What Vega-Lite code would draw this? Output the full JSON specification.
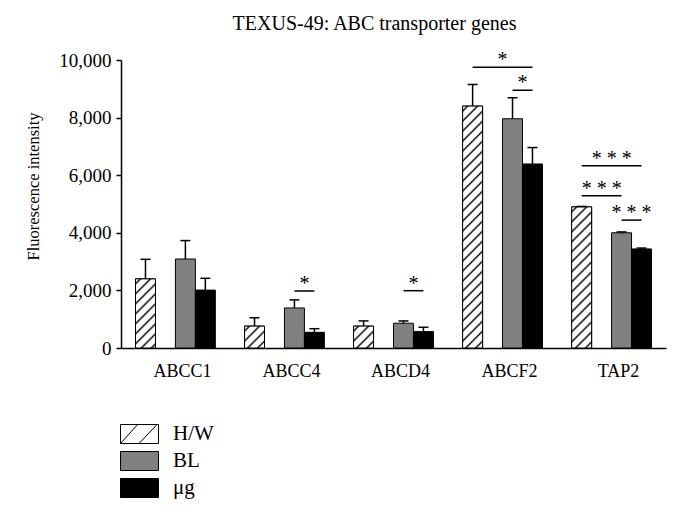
{
  "$schema": "https://vega.github.io/schema/vega-lite/v6.json",
  "width": 545,
  "height": 288,
  "autosize": "none",
  "padding": {"left": 121, "top": 60, "right": 14, "bottom": 164},
  "background": "#ffffff",
  "title": {"text": "TEXUS-49: ABC transporter genes", "font": "Liberation Serif", "fontSize": 20, "fontWeight": "normal", "color": "#000000", "anchor": "middle", "dx": -19, "offset": 16},
  "config": {
    "view": {"stroke": null},
    "font": "Liberation Serif",
    "axisY": {"grid": false, "tickSize": 5, "tickColor": "#000000", "tickWidth": 1.5, "labelPadding": 5, "labelExpr": "format(datum.value, ',')", "labelFont": "Liberation Serif", "labelFontSize": 19, "labelColor": "#000000", "domainColor": "#000000", "domainWidth": 1.5, "titleFont": "Liberation Serif", "titleFontSize": 16.5, "titleFontWeight": "normal", "titleColor": "#000000", "titleAngle": -90, "titleX": -82.5, "titleY": 126, "titleAlign": "center", "titleBaseline": "alphabetic"}
  },
  "datasets": {
    "bars": [
      {"gene": "ABCC1", "group": "H/W", "value": 2400, "upper": 3080},
      {"gene": "ABCC1", "group": "BL", "value": 3090, "upper": 3730},
      {"gene": "ABCC1", "group": "μg", "value": 2010, "upper": 2420},
      {"gene": "ABCC4", "group": "H/W", "value": 760, "upper": 1050},
      {"gene": "ABCC4", "group": "BL", "value": 1390, "upper": 1670},
      {"gene": "ABCC4", "group": "μg", "value": 545, "upper": 670},
      {"gene": "ABCD4", "group": "H/W", "value": 760, "upper": 940},
      {"gene": "ABCD4", "group": "BL", "value": 860, "upper": 940},
      {"gene": "ABCD4", "group": "μg", "value": 570, "upper": 720},
      {"gene": "ABCF2", "group": "H/W", "value": 8400, "upper": 9150},
      {"gene": "ABCF2", "group": "BL", "value": 7960, "upper": 8690},
      {"gene": "ABCF2", "group": "μg", "value": 6390, "upper": 6960},
      {"gene": "TAP2", "group": "H/W", "value": 4900, "upper": 4915},
      {"gene": "TAP2", "group": "BL", "value": 4000, "upper": 4030},
      {"gene": "TAP2", "group": "μg", "value": 3440, "upper": 3470}
    ],
    "sig": [
      {"gene": "ABCC4", "from": "BL", "to": "μg", "level": 1980, "label": "*"},
      {"gene": "ABCD4", "from": "BL", "to": "μg", "level": 1990, "label": "*"},
      {"gene": "ABCF2", "from": "H/W", "to": "μg", "level": 9750, "label": "*"},
      {"gene": "ABCF2", "from": "BL", "to": "μg", "level": 8950, "label": "*"},
      {"gene": "TAP2", "from": "H/W", "to": "μg", "level": 6330, "label": "* * *"},
      {"gene": "TAP2", "from": "H/W", "to": "BL", "level": 5290, "label": "* * *"},
      {"gene": "TAP2", "from": "BL", "to": "μg", "level": 4440, "label": "* * *"}
    ]
  },
  "encoding": {
    "x": {
      "field": "gene", "type": "nominal",
      "sort": ["ABCC1", "ABCC4", "ABCD4", "ABCF2", "TAP2"],
      "scale": {"domain": ["ABCC1", "ABCC4", "ABCD4", "ABCF2", "TAP2"], "paddingInner": 0.268, "paddingOuter": 0.133},
      "axis": {"title": null, "labelAngle": 0, "ticks": false, "labelPadding": 14, "labelOffset": 7, "labelFont": "Liberation Serif", "labelFontSize": 18, "labelColor": "#000000", "domainColor": "#000000", "domainWidth": 1.5}
    }
  },
  "layer": [
    {
      "data": {"name": "bars"},
      "mark": {"type": "bar", "stroke": "#000000", "strokeWidth": 1},
      "encoding": {
        "xOffset": {"field": "group", "type": "nominal", "scale": {"domain": ["H/W", "gap", "BL", "μg"], "paddingInner": 0, "paddingOuter": 0}},
        "y": {
          "field": "value", "type": "quantitative", "title": "Fluorescence intensity",
          "scale": {"domain": [0, 10000], "nice": false},
          "axis": {"title": "Fluorescence intensity", "values": [0, 2000, 4000, 6000, 8000, 10000]}
        },
        "color": {
          "field": "group", "type": "nominal",
          "scale": {"domain": ["H/W", "BL", "μg"], "range": ["#ffffff", "#808080", "#000000"]},
          "legend": {
            "title": null, "orient": "none", "legendX": 8, "legendY": 363.5, "direction": "vertical",
            "symbolType": "M-2,-1H2V1H-2Z", "symbolSize": 361, "symbolStrokeColor": "#000000", "symbolStrokeWidth": 1, "symbolOpacity": 1,
            "labelFont": "Liberation Serif", "labelFontSize": 21, "labelColor": "#000000", "labelOffset": 23, "rowPadding": 4, "padding": 0,
            "encode": {"symbols": {"update": {
              "stroke": {"value": "#000000"},
              "strokeWidth": {"value": 1},
              "shape": {"signal": "datum.value === 'H/W' ? 'M-2,-1H2V1H-2Z M-2,1L-0.2,-1 M-0.05,1L1.85,-1' : 'M-2,-1H2V1H-2Z'"}
            }}}
          }
        }
      }
    },
    {
      "data": {"name": "bars"},
      "transform": [{"filter": "datum.group === 'H/W' && datum.gene === 'ABCC1'"}],
      "mark": {"type": "bar", "stroke": "#000000", "strokeWidth": 1, "fill": {"gradient": "linear", "x1": 0, "y1": 0, "x2": 0.3443, "y2": 1.1898, "stops": [
        {"offset": 0.0337, "color": "#ffffff"}, {"offset": 0.0561, "color": "#000000"}, {"offset": 0.0785, "color": "#ffffff"},
        {"offset": 0.1459, "color": "#ffffff"}, {"offset": 0.1683, "color": "#000000"}, {"offset": 0.1908, "color": "#ffffff"},
        {"offset": 0.2581, "color": "#ffffff"}, {"offset": 0.2805, "color": "#000000"}, {"offset": 0.3030, "color": "#ffffff"},
        {"offset": 0.3703, "color": "#ffffff"}, {"offset": 0.3927, "color": "#000000"}, {"offset": 0.4152, "color": "#ffffff"},
        {"offset": 0.4825, "color": "#ffffff"}, {"offset": 0.5049, "color": "#000000"}, {"offset": 0.5274, "color": "#ffffff"},
        {"offset": 0.5947, "color": "#ffffff"}, {"offset": 0.6172, "color": "#000000"}, {"offset": 0.6396, "color": "#ffffff"},
        {"offset": 0.7069, "color": "#ffffff"}, {"offset": 0.7294, "color": "#000000"}, {"offset": 0.7518, "color": "#ffffff"},
        {"offset": 0.8191, "color": "#ffffff"}, {"offset": 0.8416, "color": "#000000"}, {"offset": 0.8640, "color": "#ffffff"},
        {"offset": 0.9313, "color": "#ffffff"}, {"offset": 0.9538, "color": "#000000"}, {"offset": 0.9762, "color": "#ffffff"}]}},
      "encoding": {
        "xOffset": {"field": "group", "type": "nominal", "scale": {"domain": ["H/W", "gap", "BL", "μg"]}},
        "y": {"field": "value", "type": "quantitative", "title": "Fluorescence intensity"}
      }
    },
    {
      "data": {"name": "bars"},
      "transform": [{"filter": "datum.group === 'H/W' && (datum.gene === 'ABCC4' || datum.gene === 'ABCD4')"}],
      "mark": {"type": "bar", "stroke": "#000000", "strokeWidth": 1, "fill": {"gradient": "linear", "x1": 0, "y1": 0, "x2": 0.9529, "y2": 1.0430, "stops": [
        {"offset": 0.0716, "color": "#ffffff"}, {"offset": 0.1194, "color": "#000000"}, {"offset": 0.1671, "color": "#ffffff"},
        {"offset": 0.3103, "color": "#ffffff"}, {"offset": 0.3581, "color": "#000000"}, {"offset": 0.4058, "color": "#ffffff"},
        {"offset": 0.5491, "color": "#ffffff"}, {"offset": 0.5968, "color": "#000000"}, {"offset": 0.6446, "color": "#ffffff"},
        {"offset": 0.7878, "color": "#ffffff"}, {"offset": 0.8355, "color": "#000000"}, {"offset": 0.8833, "color": "#ffffff"}]}},
      "encoding": {
        "xOffset": {"field": "group", "type": "nominal", "scale": {"domain": ["H/W", "gap", "BL", "μg"]}},
        "y": {"field": "value", "type": "quantitative", "title": "Fluorescence intensity"}
      }
    },
    {
      "data": {"name": "bars"},
      "transform": [{"filter": "datum.group === 'H/W' && datum.gene === 'ABCF2'"}],
      "mark": {"type": "bar", "stroke": "#000000", "strokeWidth": 1, "fill": {"gradient": "linear", "x1": 0, "y1": 0, "x2": 0.0889, "y2": 1.0753, "stops": [
        {"offset": 0.0115, "color": "#ffffff"}, {"offset": 0.0191, "color": "#000000"}, {"offset": 0.0267, "color": "#ffffff"},
        {"offset": 0.0496, "color": "#ffffff"}, {"offset": 0.0573, "color": "#000000"}, {"offset": 0.0649, "color": "#ffffff"},
        {"offset": 0.0878, "color": "#ffffff"}, {"offset": 0.0955, "color": "#000000"}, {"offset": 0.1031, "color": "#ffffff"},
        {"offset": 0.1260, "color": "#ffffff"}, {"offset": 0.1336, "color": "#000000"}, {"offset": 0.1413, "color": "#ffffff"},
        {"offset": 0.1642, "color": "#ffffff"}, {"offset": 0.1718, "color": "#000000"}, {"offset": 0.1794, "color": "#ffffff"},
        {"offset": 0.2024, "color": "#ffffff"}, {"offset": 0.2100, "color": "#000000"}, {"offset": 0.2176, "color": "#ffffff"},
        {"offset": 0.2405, "color": "#ffffff"}, {"offset": 0.2482, "color": "#000000"}, {"offset": 0.2558, "color": "#ffffff"},
        {"offset": 0.2787, "color": "#ffffff"}, {"offset": 0.2864, "color": "#000000"}, {"offset": 0.2940, "color": "#ffffff"},
        {"offset": 0.3169, "color": "#ffffff"}, {"offset": 0.3245, "color": "#000000"}, {"offset": 0.3322, "color": "#ffffff"},
        {"offset": 0.3551, "color": "#ffffff"}, {"offset": 0.3627, "color": "#000000"}, {"offset": 0.3703, "color": "#ffffff"},
        {"offset": 0.3933, "color": "#ffffff"}, {"offset": 0.4009, "color": "#000000"}, {"offset": 0.4085, "color": "#ffffff"},
        {"offset": 0.4314, "color": "#ffffff"}, {"offset": 0.4391, "color": "#000000"}, {"offset": 0.4467, "color": "#ffffff"},
        {"offset": 0.4696, "color": "#ffffff"}, {"offset": 0.4773, "color": "#000000"}, {"offset": 0.4849, "color": "#ffffff"},
        {"offset": 0.5078, "color": "#ffffff"}, {"offset": 0.5154, "color": "#000000"}, {"offset": 0.5231, "color": "#ffffff"},
        {"offset": 0.5460, "color": "#ffffff"}, {"offset": 0.5536, "color": "#000000"}, {"offset": 0.5612, "color": "#ffffff"},
        {"offset": 0.5842, "color": "#ffffff"}, {"offset": 0.5918, "color": "#000000"}, {"offset": 0.5994, "color": "#ffffff"},
        {"offset": 0.6223, "color": "#ffffff"}, {"offset": 0.6300, "color": "#000000"}, {"offset": 0.6376, "color": "#ffffff"},
        {"offset": 0.6605, "color": "#ffffff"}, {"offset": 0.6682, "color": "#000000"}, {"offset": 0.6758, "color": "#ffffff"},
        {"offset": 0.6987, "color": "#ffffff"}, {"offset": 0.7063, "color": "#000000"}, {"offset": 0.7140, "color": "#ffffff"},
        {"offset": 0.7369, "color": "#ffffff"}, {"offset": 0.7445, "color": "#000000"}, {"offset": 0.7521, "color": "#ffffff"},
        {"offset": 0.7751, "color": "#ffffff"}, {"offset": 0.7827, "color": "#000000"}, {"offset": 0.7903, "color": "#ffffff"},
        {"offset": 0.8132, "color": "#ffffff"}, {"offset": 0.8209, "color": "#000000"}, {"offset": 0.8285, "color": "#ffffff"},
        {"offset": 0.8514, "color": "#ffffff"}, {"offset": 0.8591, "color": "#000000"}, {"offset": 0.8667, "color": "#ffffff"},
        {"offset": 0.8896, "color": "#ffffff"}, {"offset": 0.8972, "color": "#000000"}, {"offset": 0.9049, "color": "#ffffff"},
        {"offset": 0.9278, "color": "#ffffff"}, {"offset": 0.9354, "color": "#000000"}, {"offset": 0.9430, "color": "#ffffff"},
        {"offset": 0.9660, "color": "#ffffff"}, {"offset": 0.9736, "color": "#000000"}, {"offset": 0.9812, "color": "#ffffff"}]}},
      "encoding": {
        "xOffset": {"field": "group", "type": "nominal", "scale": {"domain": ["H/W", "gap", "BL", "μg"]}},
        "y": {"field": "value", "type": "quantitative", "title": "Fluorescence intensity"}
      }
    },
    {
      "data": {"name": "bars"},
      "transform": [{"filter": "datum.group === 'H/W' && datum.gene === 'TAP2'"}],
      "mark": {"type": "bar", "stroke": "#000000", "strokeWidth": 1, "fill": {"gradient": "linear", "x1": 0, "y1": 0, "x2": 0.1586, "y2": 1.1192, "stops": [
        {"offset": 0.0186, "color": "#ffffff"}, {"offset": 0.0310, "color": "#000000"}, {"offset": 0.0434, "color": "#ffffff"},
        {"offset": 0.0807, "color": "#ffffff"}, {"offset": 0.0931, "color": "#000000"}, {"offset": 0.1055, "color": "#ffffff"},
        {"offset": 0.1428, "color": "#ffffff"}, {"offset": 0.1552, "color": "#000000"}, {"offset": 0.1676, "color": "#ffffff"},
        {"offset": 0.2048, "color": "#ffffff"}, {"offset": 0.2172, "color": "#000000"}, {"offset": 0.2296, "color": "#ffffff"},
        {"offset": 0.2669, "color": "#ffffff"}, {"offset": 0.2793, "color": "#000000"}, {"offset": 0.2917, "color": "#ffffff"},
        {"offset": 0.3290, "color": "#ffffff"}, {"offset": 0.3414, "color": "#000000"}, {"offset": 0.3538, "color": "#ffffff"},
        {"offset": 0.3910, "color": "#ffffff"}, {"offset": 0.4034, "color": "#000000"}, {"offset": 0.4158, "color": "#ffffff"},
        {"offset": 0.4531, "color": "#ffffff"}, {"offset": 0.4655, "color": "#000000"}, {"offset": 0.4779, "color": "#ffffff"},
        {"offset": 0.5151, "color": "#ffffff"}, {"offset": 0.5276, "color": "#000000"}, {"offset": 0.5400, "color": "#ffffff"},
        {"offset": 0.5772, "color": "#ffffff"}, {"offset": 0.5896, "color": "#000000"}, {"offset": 0.6020, "color": "#ffffff"},
        {"offset": 0.6393, "color": "#ffffff"}, {"offset": 0.6517, "color": "#000000"}, {"offset": 0.6641, "color": "#ffffff"},
        {"offset": 0.7013, "color": "#ffffff"}, {"offset": 0.7138, "color": "#000000"}, {"offset": 0.7262, "color": "#ffffff"},
        {"offset": 0.7634, "color": "#ffffff"}, {"offset": 0.7758, "color": "#000000"}, {"offset": 0.7882, "color": "#ffffff"},
        {"offset": 0.8255, "color": "#ffffff"}, {"offset": 0.8379, "color": "#000000"}, {"offset": 0.8503, "color": "#ffffff"},
        {"offset": 0.8875, "color": "#ffffff"}, {"offset": 0.9000, "color": "#000000"}, {"offset": 0.9124, "color": "#ffffff"},
        {"offset": 0.9496, "color": "#ffffff"}, {"offset": 0.9620, "color": "#000000"}, {"offset": 0.9744, "color": "#ffffff"}]}},
      "encoding": {
        "xOffset": {"field": "group", "type": "nominal", "scale": {"domain": ["H/W", "gap", "BL", "μg"]}},
        "y": {"field": "value", "type": "quantitative", "title": "Fluorescence intensity"}
      }
    },
    {
      "data": {"name": "bars"},
      "mark": {"type": "rule", "color": "#000000", "strokeWidth": 1.5},
      "encoding": {
        "xOffset": {"field": "group", "type": "nominal", "scale": {"domain": ["H/W", "gap", "BL", "μg"]}},
        "y": {"field": "value", "type": "quantitative", "title": "Fluorescence intensity"},
        "y2": {"field": "upper"}
      }
    },
    {
      "data": {"name": "bars"},
      "mark": {"type": "tick", "color": "#000000", "orient": "horizontal", "size": 10, "thickness": 1.5, "opacity": 1},
      "encoding": {
        "xOffset": {"field": "group", "type": "nominal", "scale": {"domain": ["H/W", "gap", "BL", "μg"]}},
        "y": {"field": "upper", "type": "quantitative", "title": "Fluorescence intensity"}
      }
    },
    {
      "data": {"name": "sig"},
      "transform": [{"fold": ["from", "to"], "as": ["end", "slot"]}],
      "mark": {"type": "line", "color": "#000000", "strokeWidth": 1.5},
      "encoding": {
        "xOffset": {"field": "slot", "type": "nominal", "scale": {"domain": ["H/W", "gap", "BL", "μg"]}},
        "y": {"field": "level", "type": "quantitative", "title": "Fluorescence intensity"},
        "detail": [{"field": "gene"}, {"field": "from"}, {"field": "to"}]
      }
    },
    {
      "data": {"name": "sig"},
      "transform": [{"filter": "datum.from === 'BL'"}],
      "mark": {"type": "text", "color": "#000000", "font": "Liberation Serif", "fontSize": 20, "baseline": "alphabetic", "dx": 10, "dy": -1},
      "encoding": {
        "xOffset": {"field": "from", "type": "nominal", "scale": {"domain": ["H/W", "gap", "BL", "μg"]}},
        "y": {"field": "level", "type": "quantitative", "title": "Fluorescence intensity"},
        "text": {"field": "label"}
      }
    },
    {
      "data": {"name": "sig"},
      "transform": [{"filter": "datum.from === 'H/W' && datum.to === 'BL'"}],
      "mark": {"type": "text", "color": "#000000", "font": "Liberation Serif", "fontSize": 20, "baseline": "alphabetic", "dx": 20, "dy": -1},
      "encoding": {
        "xOffset": {"field": "from", "type": "nominal", "scale": {"domain": ["H/W", "gap", "BL", "μg"]}},
        "y": {"field": "level", "type": "quantitative", "title": "Fluorescence intensity"},
        "text": {"field": "label"}
      }
    },
    {
      "data": {"name": "sig"},
      "transform": [{"filter": "datum.from === 'H/W' && datum.to === 'μg'"}],
      "mark": {"type": "text", "color": "#000000", "font": "Liberation Serif", "fontSize": 20, "baseline": "alphabetic", "dx": 30, "dy": -1},
      "encoding": {
        "xOffset": {"field": "from", "type": "nominal", "scale": {"domain": ["H/W", "gap", "BL", "μg"]}},
        "y": {"field": "level", "type": "quantitative", "title": "Fluorescence intensity"},
        "text": {"field": "label"}
      }
    }
  ]
}
